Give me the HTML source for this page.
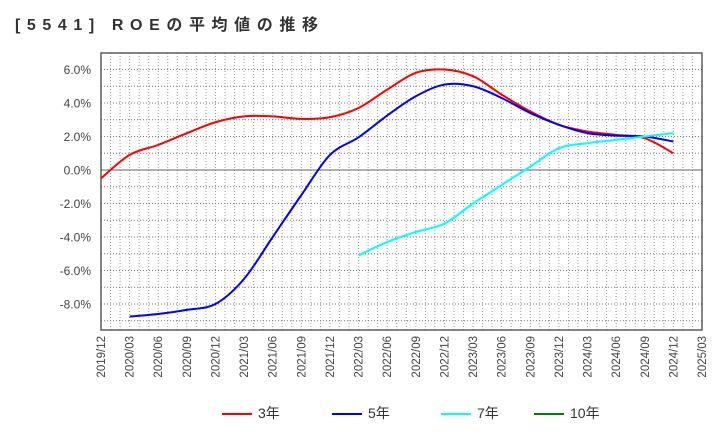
<!DOCTYPE html>
<html><head><meta charset="utf-8"><style>
body{margin:0;background:#fff;font-family:"Liberation Sans","Noto Sans CJK JP",sans-serif}
svg text{font-family:"Liberation Sans","Noto Sans CJK JP",sans-serif}
</style></head><body>
<svg id="c" width="720" height="440" xmlns="http://www.w3.org/2000/svg">
<text x="15" y="30" font-size="16" font-weight="bold" fill="#333" textLength="303" lengthAdjust="spacing">[5541]  ROEの平均値の推移</text>
<g id="grid"></g><g id="axes"></g><g id="series"></g><g id="legend"></g>
</svg>
<script>
const xLabels=["2019/12","2020/03","2020/06","2020/09","2020/12","2021/03","2021/06","2021/09","2021/12","2022/03","2022/06","2022/09","2022/12","2023/03","2023/06","2023/09","2023/12","2024/03","2024/06","2024/09","2024/12","2025/03"];
const yTicks=[6,4,2,0,-2,-4,-6,-8];
const roe3=[-0.5,0.9,1.5,2.2,2.85,3.2,3.2,3.05,3.15,3.7,4.8,5.8,6.0,5.6,4.5,3.5,2.7,2.3,2.1,1.9,1.0];
const roe5=[null,-8.75,-8.6,-8.35,-8.0,-6.5,-4.0,-1.5,0.9,1.95,3.25,4.4,5.1,5.0,4.3,3.4,2.7,2.2,2.05,2.0,1.7];
const roe7=[null,null,null,null,null,null,null,null,null,-5.1,-4.3,-3.7,-3.2,-2.0,-0.9,0.2,1.3,1.6,1.8,2.0,2.2];
const roe10=[];
const L=101,R=702,T=53,B=330;
const xs=i=>L+(R-L)*i/(xLabels.length-1);
const ys=v=>170-v*16.75;
const NS="http://www.w3.org/2000/svg";
function mk(tag,attrs,parent){const e=document.createElementNS(NS,tag);for(const k in attrs)e.setAttribute(k,attrs[k]);parent.appendChild(e);return e;}
const grid=document.getElementById('grid'),axes=document.getElementById('axes');
for(let m=1;m<63;m++){const x=L+(R-L)*m/63;const ln=mk('line',{x1:x,x2:x,y1:T,y2:B,stroke:'#999','stroke-dasharray':'1,2'},grid);

}
for(let v=7;v>=-9;v--){if(v===0)continue;const y=ys(v);if(y<T||y>B)continue;const ln=mk('line',{x1:L,x2:R,y1:y,y2:y,stroke:'#777','stroke-dasharray':'1,2'},grid);

}
const z=mk('line',{x1:L,x2:R,y1:ys(0),y2:ys(0),stroke:'#666'},axes);


const fr=mk('rect',{x:L,y:T,width:R-L,height:B-T,fill:'none',stroke:'#444','stroke-width':1.3},axes);


yTicks.forEach(v=>{const t=mk('text',{x:91,y:ys(v)+4.5,'font-size':12,fill:'#444','text-anchor':'end'},axes);t.textContent=v.toFixed(1)+'%';

});
xLabels.forEach((s,i)=>{const x=xs(i);const t=mk('text',{x:0,y:0,'font-size':11.5,fill:'#444','text-anchor':'end',transform:`translate(${x+4},${B+6}) rotate(-90)`},axes);t.textContent=s;

});
function path(arr){const p=[];arr.forEach((v,i)=>{if(v!=null)p.push([xs(i),ys(v)]);});if(p.length<2)return '';
let d=`M${p[0][0]},${p[0][1]}`;for(let i=0;i<p.length-1;i++){const p0=p[i-1]||p[i],p1=p[i],p2=p[i+1],p3=p[i+2]||p2;
const c1=[p1[0]+(p2[0]-p0[0])/6,p1[1]+(p2[1]-p0[1])/6],c2=[p2[0]-(p3[0]-p1[0])/6,p2[1]-(p3[1]-p1[1])/6];
d+=` C${c1[0]},${c1[1]} ${c2[0]},${c2[1]} ${p2[0]},${p2[1]}`;}return d;}
const sg=document.getElementById('series');
[[roe3,'#ff0000','series-3y'],[roe5,'#0000ff','series-5y'],[roe7,'#00ffff','series-7y'],[roe10,'#008000','series-10y']].forEach(([a,c,n])=>{const d=path(a);if(!d)return;
const e=mk('path',{d:d,fill:'none',stroke:c,'stroke-width':2},sg);

});
const lg=document.getElementById('legend');
[['3年','#ff0000',222],['5年','#0000ff',332],['7年','#00ffff',441],['10年','#008000',534]].forEach(([s,c,x])=>{
const g=mk('g',{},lg);


mk('line',{x1:x,x2:x+30,y1:414,y2:414,stroke:c,'stroke-width':2},g);
const t=mk('text',{x:x+36,y:418,'font-size':14,fill:'#333'},g);t.textContent=s;});
</script>
</body></html>
